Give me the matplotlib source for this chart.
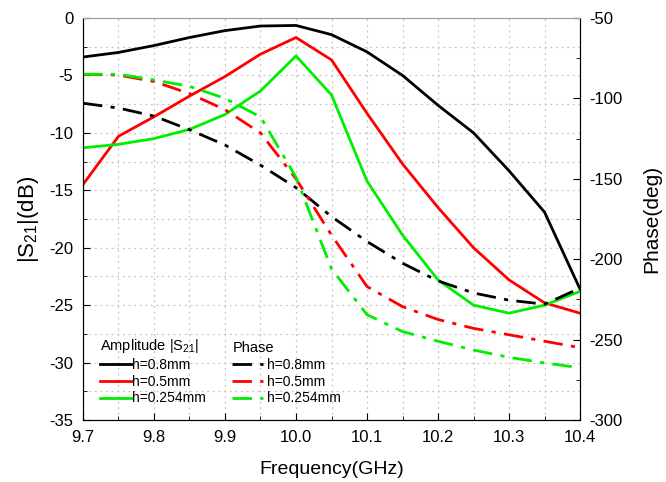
import numpy as np
import matplotlib.pyplot as plt
from matplotlib.ticker import MultipleLocator, FormatStrFormatter

plt.rcParams['font.family'] = ['Liberation Sans', 'DejaVu Sans']
plt.rcParams['axes.unicode_minus'] = False
plt.rcParams['mathtext.fontset'] = 'custom'
plt.rcParams['mathtext.rm'] = 'Liberation Sans'
plt.rcParams['mathtext.default'] = 'regular'

freq = [9.70, 9.75, 9.80, 9.85, 9.90, 9.95, 10.00, 10.05, 10.10, 10.15, 10.20, 10.25, 10.30, 10.35, 10.40]

# amplitude |S21| in dB
amp_08 = [-3.4, -3.0, -2.4, -1.7, -1.1, -0.7, -0.65, -1.45, -2.95, -5.0, -7.6, -10.0, -13.3, -16.9, -23.6]
amp_05 = [-14.5, -10.3, -8.6, -6.8, -5.1, -3.15, -1.7, -3.65, -8.3, -12.7, -16.5, -20.0, -22.8, -24.8, -25.7]
amp_0254 = [-11.3, -11.0, -10.5, -9.7, -8.4, -6.35, -3.3, -6.7, -14.2, -18.9, -22.8, -25.0, -25.7, -25.0, -23.8]

# phase in degrees
ph_08 = [-103, -106, -111, -119.5, -129, -141.5, -155.5, -173.5, -189, -202.5, -213.5, -221, -225.5, -228, -218]
ph_05 = [-85, -85.5, -89.5, -97, -107, -121.5, -150, -185, -217, -229.5, -237.5, -243, -247, -251, -255]
ph_0254 = [-85, -85, -88.5, -92.5, -100, -111.5, -149, -206, -234.5, -245, -251, -256.5, -261, -264.5, -267.5]

labels = ['h=0.8mm', 'h=0.5mm', 'h=0.254mm']
colors = ['black', '#ff0000', '#00ee00']

fig = plt.figure(figsize=(6.66, 4.82), dpi=100)
ax = fig.add_axes([0.1246, 0.1286, 0.7463, 0.8341])
ax2 = ax.twinx()

amp_lines = []
for y, c, lab in zip([amp_08, amp_05, amp_0254], colors, labels):
    l, = ax.plot(freq, y, color=c, lw=2, label=lab)
    amp_lines.append(l)

ph_lines = []
for y, c, lab in zip([ph_08, ph_05, ph_0254], colors, labels):
    l, = ax2.plot(freq, y, color=c, lw=2, dashes=(7, 3, 1.5, 3), label=lab)
    ph_lines.append(l)

ax.set_xlim(9.7, 10.4)
ax.set_ylim(-35, 0)
ax2.set_ylim(-300, -50)

ax.xaxis.set_major_locator(MultipleLocator(0.1))
ax.xaxis.set_minor_locator(MultipleLocator(0.05))
ax.xaxis.set_major_formatter(FormatStrFormatter('%.1f'))
ax.yaxis.set_major_locator(MultipleLocator(5))
ax.yaxis.set_minor_locator(MultipleLocator(2.5))
ax2.yaxis.set_major_locator(MultipleLocator(50))
ax2.yaxis.set_minor_locator(MultipleLocator(25))

ax.grid(True, which='both', color='#c4c4c4', ls=(0, (1.5, 3)), lw=0.9)
ax.tick_params(which='both', direction='in', labelsize=12, top=False, pad=7)
ax.tick_params(which='major', length=5)
ax.tick_params(which='minor', length=3)
ax2.tick_params(which='both', direction='in', labelsize=12, pad=7)
ax2.tick_params(which='major', length=5)
ax2.tick_params(which='minor', length=3)
for a in (ax, ax2):
    a.spines['top'].set_color('#a0a0a0')

ax.set_xlabel('Frequency(GHz)', fontsize=14, labelpad=12)
ax.set_ylabel('|S$_{21}$|(dB)', fontsize=16, labelpad=6)
ax2.set_ylabel('Phase(deg)', fontsize=15, labelpad=14)

ax.legend(handles=amp_lines, title='Amplitude |S$_{21}$|', loc='lower left',
          bbox_to_anchor=(0.014, 0.012), frameon=False, fontsize=10,
          title_fontsize=10.5, handlelength=2.3, handletextpad=0.05,
          labelspacing=0.2, alignment='left', borderaxespad=0.3)
ax2.legend(handles=ph_lines, title='Phase', loc='lower left',
           bbox_to_anchor=(0.281, 0.012), frameon=False, fontsize=10,
           title_fontsize=10.5, handlelength=2.2, handletextpad=0.3,
           labelspacing=0.2, alignment='left', borderaxespad=0.3)

fig.savefig('out.png', dpi=100)
